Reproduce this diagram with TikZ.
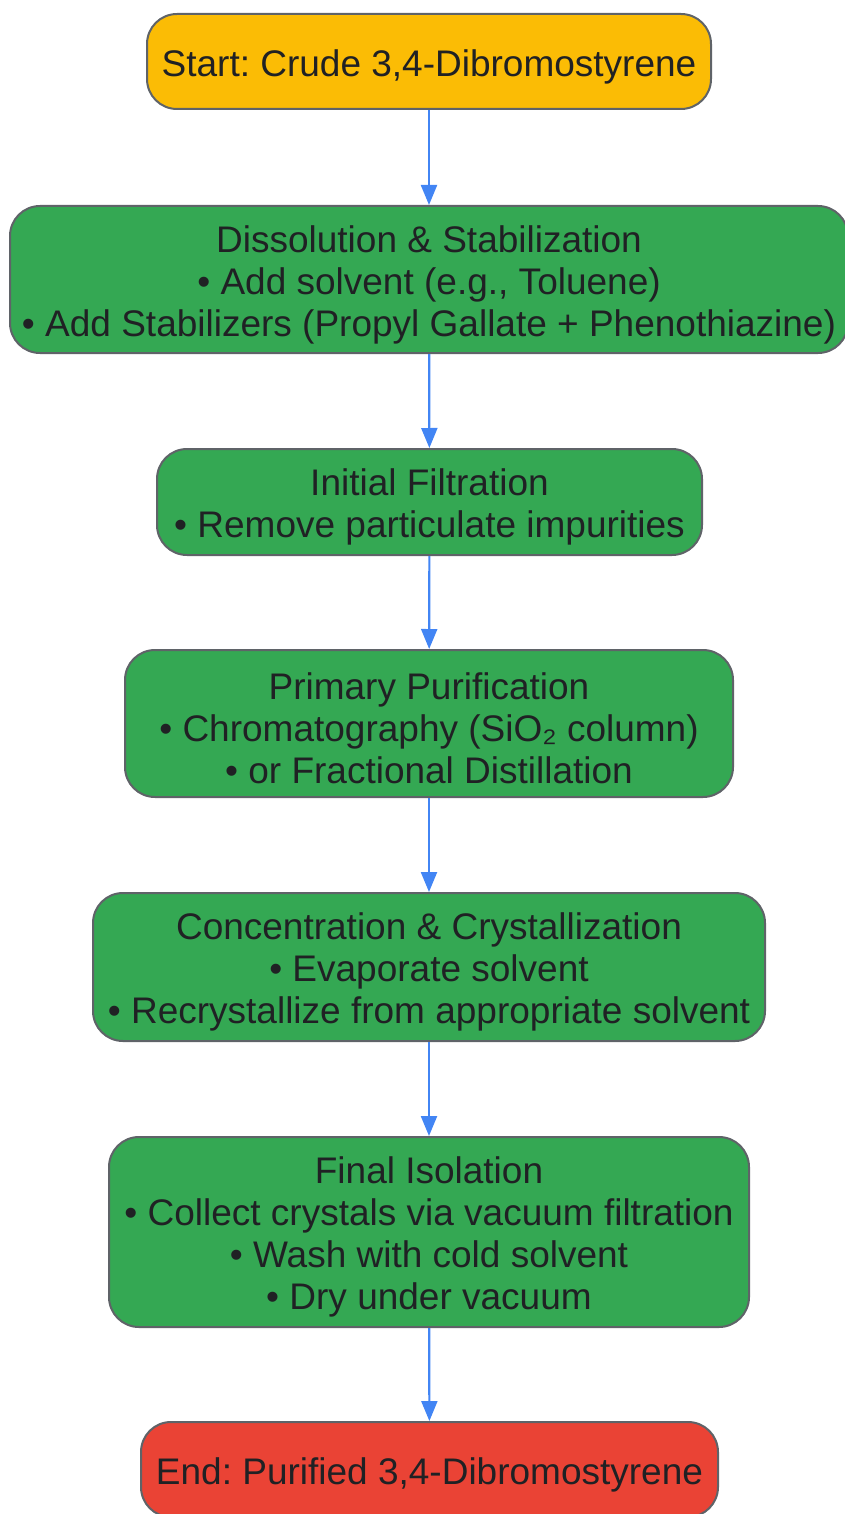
\documentclass[tikz,border=0pt]{standalone}
\usepackage{fontspec}
\setmainfont{Liberation Sans}
\frenchspacing
\usetikzlibrary{arrows.meta}
\definecolor{jaune}{HTML}{FBBC05}
\definecolor{vert}{HTML}{34A853}
\definecolor{rouge}{HTML}{EA4335}
\definecolor{bleu}{HTML}{4285F4}
\definecolor{bord}{HTML}{5F6368}
\definecolor{texte}{HTML}{202124}
\newcommand{\haut}{\rule{0pt}{37pt}}

\begin{document}
\begin{tikzpicture}[x=1pt, y=1pt]
  \tikzstyle{etape}=[draw=bord, line width=2pt, rounded corners=30pt, inner sep=0pt, align=center, text=texte, font=\fontsize{37}{42}\selectfont];
  \tikzstyle{fleche}=[draw=bleu, line width=2.2pt, -{Triangle[length=20pt, width=16pt]}];

  \useasboundingbox (0,0) rectangle (845,-1514);

  \coordinate (S) at (429,-61.5);
  \coordinate (D) at (429,-279.5);
  \coordinate (F) at (429.5,-502);
  \coordinate (P) at (429,-723.5);
  \coordinate (C) at (429,-967);
  \coordinate (I) at (429,-1232);
  \coordinate (E) at (429.5,-1469.5);

  \node[etape, fill=jaune, minimum width=564pt, minimum height=95pt] (start) at (S) {\haut Start: Crude 3,4-Dibromostyrene};
  \node[etape, fill=vert, minimum width=838pt, minimum height=147pt] (dissol) at (D) {\haut Dissolution \& Stabilization\\• Add solvent (e.g., Toluene)\\• Add Stabilizers (Propyl Gallate + Phenothiazine)};
  \node[etape, fill=vert, minimum width=545pt, minimum height=106pt] (filtr) at (F) {\haut Initial Filtration\\• Remove particulate impurities};
  \node[etape, fill=vert, minimum width=608pt, minimum height=147pt] (purif) at (P) {\haut Primary Purification\\• Chromatography (SiO₂ column)\\• or Fractional Distillation};
  \node[etape, fill=vert, minimum width=672pt, minimum height=148pt] (cristal) at (C) {\haut Concentration \& Crystallization\\• Evaporate solvent\\• Recrystallize from appropriate solvent};
  \node[etape, fill=vert, minimum width=640pt, minimum height=190pt] (isol) at (I) {\haut Final Isolation\\• Collect crystals via vacuum filtration\\• Wash with cold solvent\\• Dry under vacuum};
  \node[etape, fill=rouge, minimum width=577pt, minimum height=95pt] (fin) at (E) {\haut End: Purified 3,4-Dibromostyrene};

  \draw[fleche] (start) -- (dissol);
  \draw[fleche] (dissol) -- (filtr);
  \draw[fleche] (filtr) -- (purif);
  \draw[fleche] (purif) -- (cristal);
  \draw[fleche] (cristal) -- (isol);
  \draw[fleche] (isol) -- (fin);
\end{tikzpicture}
\end{document}
